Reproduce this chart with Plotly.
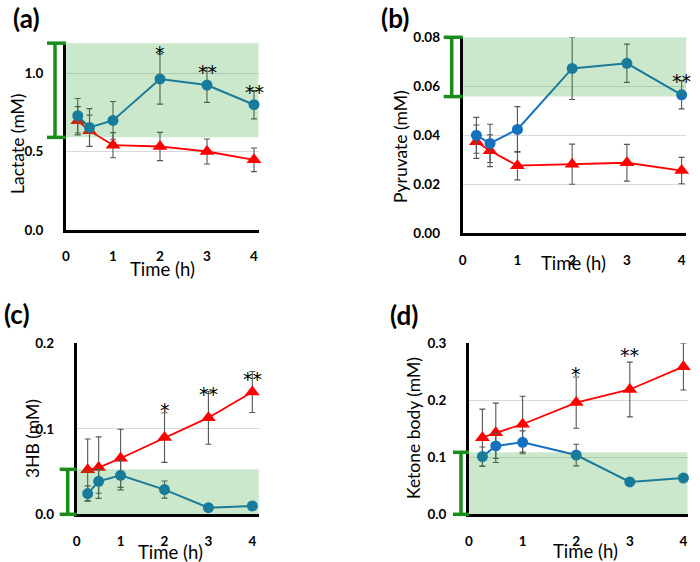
import plotly.graph_objects as go

W, H = 700, 562

# ---------------- data ----------------
time_h = [0.25, 0.5, 1, 2, 3, 4]
x_ticks = [0, 1, 2, 3, 4]
star_times = [2, 3, 4]
star_labels = ["*", "**", "**"]

lactate_blue = [0.728, 0.653, 0.698, 0.962, 0.923, 0.798]
lactate_blue_err = [0.11, 0.12, 0.12, 0.16, 0.11, 0.09]
lactate_red = [0.696, 0.632, 0.540, 0.532, 0.500, 0.447]
lactate_red_err = [0.09, 0.10, 0.08, 0.09, 0.08, 0.075]
lactate_star_y = [1.16, 1.04, 0.91]
lactate_normal = [0.59, 1.19]

pyruvate_blue = [0.0400, 0.0367, 0.0424, 0.0673, 0.0694, 0.0565]
pyruvate_blue_err = [0.0073, 0.0078, 0.0093, 0.0127, 0.0078, 0.0057]
pyruvate_red = [0.0374, 0.0337, 0.0276, 0.0282, 0.0288, 0.0256]
pyruvate_red_err = [0.0068, 0.0065, 0.0058, 0.0082, 0.0075, 0.0054]
pyruvate_star_y = [0.0819, 0.0803, 0.0643]
pyruvate_normal = [0.0558, 0.0800]

hb_blue = [0.0242, 0.0386, 0.0456, 0.0289, 0.0078, 0.0097]
hb_blue_err = [0.009, 0.014, 0.017, 0.010, 0.0, 0.0]
hb_red = [0.052, 0.0546, 0.0655, 0.0897, 0.113, 0.143]
hb_red_err = [0.036, 0.036, 0.034, 0.029, 0.031, 0.024]
hb_star_y = [0.128, 0.146, 0.1645]
hb_normal = [0.0, 0.0526]

ketone_blue = [0.1012, 0.1199, 0.1263, 0.104, 0.0567, 0.0637]
ketone_blue_err = [0.017, 0.022, 0.020, 0.019, 0.0, 0.0]
ketone_red = [0.1345, 0.143, 0.158, 0.196, 0.219, 0.259]
ketone_red_err = [0.050, 0.052, 0.049, 0.045, 0.048, 0.041]
ketone_star_y = [0.2556, 0.2877, 0.313]
ketone_normal = [0.0, 0.1088]

# ---------------- styles / layout ----------------
BLUE = "#1570be"
RED = "#ff0000"
ERR = "#555555"
BAND = "rgba(40,160,40,0.24)"
BRACKET = "#1a8c1a"
FONT = "Lato"

panels = [
    dict(label="(a)", ytitle="Lactate (mM)", blue=lactate_blue, blue_err=lactate_blue_err,
         red=lactate_red, red_err=lactate_red_err, star_y=lactate_star_y, normal=lactate_normal,
         yrange=[0, 1.2], dtick=0.5, fmt=".1f", xmax=4.1,
         box=(66, 258.7, 41.6, 230), lab=(26, 18), yt=(17, 144), xt=(162, 269), br_off=11),
    dict(label="(b)", ytitle="Pyruvate (mM)", blue=pyruvate_blue, blue_err=pyruvate_blue_err,
         red=pyruvate_red, red_err=pyruvate_red_err, star_y=pyruvate_star_y, normal=pyruvate_normal,
         yrange=[0, 0.08], dtick=0.02, fmt=".2f", xmax=4.08,
         box=(462.7, 686, 37.3, 233.3), lab=(395, 18), yt=(400, 147), xt=(573, 263), br_off=11),
    dict(label="(c)", ytitle="3HB (mM)", blue=hb_blue, blue_err=hb_blue_err,
         red=hb_red, red_err=hb_red_err, star_y=hb_star_y, normal=hb_normal,
         yrange=[0, 0.2], dtick=0.1, fmt=".1f", xmax=4.15,
         box=(76.7, 258.9, 343.3, 514.3), lab=(17, 314), yt=(32, 439), xt=(170, 552), br_off=9),
    dict(label="(d)", ytitle="Ketone body (mM)", blue=ketone_blue, blue_err=ketone_blue_err,
         red=ketone_red, red_err=ketone_red_err, star_y=ketone_star_y, normal=ketone_normal,
         yrange=[0, 0.3], dtick=0.1, fmt=".1f", xmax=4.08,
         box=(469, 687.7, 343.3, 514.3), lab=(404, 315), yt=(413, 428), xt=(585, 551), br_off=8),
]


def px(p):
    return p / W


def py(p):
    return 1 - p / H


fig = go.Figure()
shapes = []
annotations = []

for i, p in enumerate(panels, start=1):
    xa = "x" if i == 1 else f"x{i}"
    ya = "y" if i == 1 else f"y{i}"
    left, right, top, bottom = p["box"]
    xd = [px(left), px(right)]
    yd = [py(bottom), py(top)]

    fig.add_trace(go.Scatter(
        x=time_h, y=p["red"], mode="lines+markers", xaxis=xa, yaxis=ya,
        line=dict(color=RED, width=1.8),
        marker=dict(symbol="triangle-up", size=13, color=RED),
        error_y=dict(type="data", array=p["red_err"], visible=True, color=ERR, thickness=1.1, width=3),
        showlegend=False, cliponaxis=False, hoverinfo="skip"))
    fig.add_trace(go.Scatter(
        x=time_h, y=p["blue"], mode="lines+markers", xaxis=xa, yaxis=ya,
        line=dict(color=BLUE, width=2),
        marker=dict(symbol="circle", size=11, color=BLUE),
        error_y=dict(type="data", array=p["blue_err"], visible=True, color=ERR, thickness=1.1, width=3),
        showlegend=False, cliponaxis=False, hoverinfo="skip"))

    common_x = dict(domain=xd, range=[0, p["xmax"]], tickvals=x_ticks, showgrid=False, zeroline=False,
                    showline=True, linecolor="black", linewidth=3, ticks="", ticklabelstandoff=12,
                    tickfont=dict(family=FONT, size=13.5, color="black", weight="bold"),
                    anchor=ya, fixedrange=True, automargin=False)
    common_y = dict(domain=yd, range=p["yrange"], dtick=p["dtick"], tick0=0, tickformat=p["fmt"],
                    showgrid=True, gridcolor="#d9d9d9", gridwidth=1, zeroline=False,
                    showline=True, linecolor="black", linewidth=3, ticks="", ticklabelstandoff=17,
                    tickfont=dict(family=FONT, size=13.5, color="black", weight="bold"),
                    anchor=xa, fixedrange=True, automargin=False)
    fig.update_layout(**{("xaxis" if i == 1 else f"xaxis{i}"): common_x,
                         ("yaxis" if i == 1 else f"yaxis{i}"): common_y})

    # normal range band (drawn over the data, translucent)
    lo, hi = p["normal"]
    shapes.append(dict(type="rect", xref=xa, yref=ya, x0=0, x1=p["xmax"], y0=lo, y1=hi,
                       fillcolor=BAND, line=dict(width=0), layer="above"))

    # normal range bracket left of the y axis
    r0, r1 = p["yrange"]

    def ypaper(v):
        return yd[0] + (v - r0) / (r1 - r0) * (yd[1] - yd[0])

    bx = px(left - p["br_off"])
    c0 = px(left - p["br_off"] - 8)
    c1 = px(left)
    yl, yh = ypaper(lo), ypaper(hi)
    brl = dict(color=BRACKET, width=3.5)
    shapes.append(dict(type="line", xref="paper", yref="paper", x0=bx, x1=bx, y0=yl, y1=yh, line=brl))
    shapes.append(dict(type="line", xref="paper", yref="paper", x0=c0, x1=c1, y0=yl, y1=yl, line=brl))
    shapes.append(dict(type="line", xref="paper", yref="paper", x0=c0, x1=c1, y0=yh, y1=yh, line=brl))

    # significance stars
    for t, s, yv in zip(star_times, star_labels, p["star_y"]):
        annotations.append(dict(x=t, y=yv, xref=xa, yref=ya, text=s, showarrow=False,
                                font=dict(family="DejaVu Sans", size=19, color="#000000"),
                                xanchor="center", yanchor="middle", yshift=-5))

    # panel label
    annotations.append(dict(x=px(p["lab"][0]), y=py(p["lab"][1]), xref="paper", yref="paper",
                            text=p["label"], showarrow=False, xanchor="center", yanchor="middle",
                            font=dict(family=FONT, size=26, color="black", weight="bold")))
    # axis titles
    annotations.append(dict(x=px(p["yt"][0]), y=py(p["yt"][1]), xref="paper", yref="paper",
                            text=p["ytitle"], showarrow=False, textangle=-90,
                            xanchor="center", yanchor="middle",
                            font=dict(family=FONT, size=17.5, color="black")))
    annotations.append(dict(x=px(p["xt"][0]), y=py(p["xt"][1]), xref="paper", yref="paper",
                            text="Time (h)", showarrow=False, xanchor="center", yanchor="middle",
                            font=dict(family=FONT, size=18.5, color="black")))

fig.update_layout(template="none", width=W, height=H, margin=dict(l=0, r=0, t=0, b=0, pad=0),
                  paper_bgcolor="white", plot_bgcolor="white",
                  shapes=shapes, annotations=annotations, showlegend=False,
                  font=dict(family=FONT), hovermode=False)

fig.write_html("out.html", config={"displayModeBar": False, "staticPlot": True},
               post_script="document.body.style.margin='0px';")
